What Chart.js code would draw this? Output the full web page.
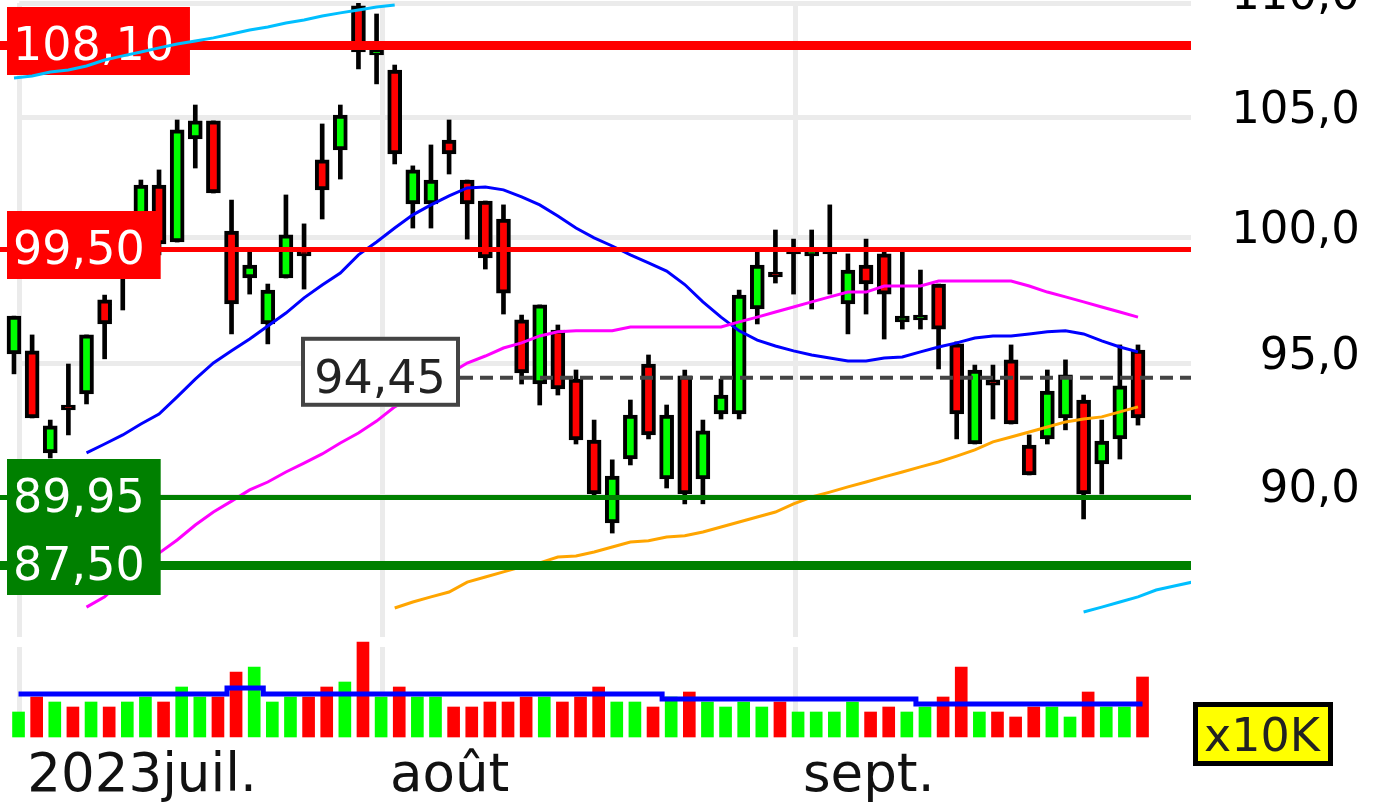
<!DOCTYPE html>
<html lang="fr">
<head>
<meta charset="UTF-8">
<title>Cours - juil. à sept. 2023</title>
<script src="https://cdn.jsdelivr.net/npm/chart.js@4"></script>
<style>
    html, body { margin: 0; padding: 0; background: #fff; }
    #wrap { position: relative; width: 1376px; height: 802px; overflow: hidden; }
    #wrap canvas { position: absolute; left: 0; }
    #prix { top: 0; }
    #volume { top: 640px; }
</style>
</head>
<body>
<div id="wrap">
    <canvas id="prix" width="1376" height="640"></canvas>
    <canvas id="volume" width="1376" height="162"></canvas>
</div>
<script>
    // seances du 3 juil. au 27 sept. 2023 (index 0..62)
    const OPEN  = [95.37, 95.49, 91.61, 93.41, 93.83, 97.49, 98.44, 99.49, 102.15, 99.81,
                   104.08, 104.85, 100.26, 98.36, 96.54, 98.36, 99.49, 103.20, 103.62, 109.87,
                   107.70, 107.04, 101.37, 101.37, 104.04, 102.36, 101.49, 100.75, 96.70, 94.21,
                   96.30, 94.40, 92.09, 89.04, 91.38, 94.98, 90.64, 94.52, 90.64, 93.07,
                   93.07, 97.13, 98.60, 99.33, 99.25, 99.33, 97.33, 98.88, 99.33, 96.62,
                   96.70, 98.12, 95.76, 91.94, 94.37, 95.14, 91.90, 92.13, 92.92, 93.60,
                   91.20, 92.13, 95.52];
    const HIGH  = [96.85, 96.11, 92.84, 94.98, 96.11, 97.68, 100.51, 102.36, 102.78, 104.89,
                   105.53, 104.85, 101.53, 99.53, 98.12, 101.74, 100.55, 104.72, 105.53, 110.23,
                   109.51, 107.26, 102.95, 103.83, 104.89, 102.36, 101.49, 101.33, 96.89, 97.29,
                   96.50, 94.75, 92.84, 91.35, 93.60, 95.33, 93.41, 94.75, 92.84, 94.40,
                   97.88, 99.53, 100.30, 99.93, 100.30, 101.33, 99.33, 99.93, 99.53, 99.53,
                   98.68, 98.12, 95.84, 94.94, 94.94, 95.72, 92.28, 94.75, 95.14, 93.79,
                   92.84, 95.72, 95.72];
    const LOW   = [94.60, 92.92, 91.42, 92.28, 93.45, 95.18, 97.09, 99.00, 99.29, 99.81,
                   102.86, 101.82, 96.15, 97.72, 95.76, 98.36, 97.92, 100.75, 102.40, 107.09,
                   106.44, 103.03, 100.38, 100.38, 102.61, 99.93, 98.72, 96.93, 94.21, 93.41,
                   93.79, 91.94, 89.98, 88.67, 91.16, 92.13, 90.31, 89.73, 89.73, 92.88,
                   92.88, 96.54, 98.16, 97.72, 97.13, 97.72, 96.15, 96.93, 95.95, 96.34,
                   96.34, 94.79, 92.13, 91.94, 92.88, 92.69, 90.79, 91.94, 92.47, 89.18,
                   90.09, 91.38, 92.65];
    const CLOSE = [96.85, 92.92, 92.62, 93.22, 96.11, 96.54, 99.89, 102.15, 99.73, 104.47,
                   104.85, 101.82, 97.33, 98.88, 97.88, 100.10, 99.25, 101.95, 105.10, 107.83,
                   107.92, 103.45, 102.78, 102.36, 103.45, 101.37, 99.17, 97.76, 94.64, 97.29,
                   94.02, 92.09, 90.09, 90.75, 93.03, 92.28, 93.03, 90.09, 92.43, 93.79,
                   97.68, 98.88, 98.40, 99.53, 99.49, 99.53, 98.68, 98.12, 97.72, 96.85,
                   96.89, 96.34, 93.07, 94.75, 94.17, 92.69, 90.79, 93.94, 94.56, 90.09,
                   92.05, 94.14, 92.92];

    // volumes en x10K
    const VOLUME = [5, 8, 7, 6, 7, 6, 7, 8, 7, 10, 8, 8, 13, 14, 7, 8, 8, 10, 11, 19,
                    8, 10, 8, 8, 6, 6, 7, 7, 8, 8, 7, 8, 10, 7, 7, 6, 8, 9, 7, 6,
                    7, 6, 7, 5, 5, 5, 7, 5, 6, 5, 6, 8, 14, 5, 5, 4, 6, 6, 4, 9,
                    6, 6, 12];
    const VOL_MA = [8.6, 8.6, 8.6, 8.6, 8.6, 8.6, 8.6, 8.6, 8.6, 8.6, 8.6, 8.6, 9.8, 9.8,
                    8.6, 8.6, 8.6, 8.6, 8.6, 8.6, 8.6, 8.6, 8.6, 8.6, 8.6, 8.6, 8.6, 8.6,
                    8.6, 8.6, 8.6, 8.6, 8.6, 8.6, 8.6, 8.6, 7.6, 7.6, 7.6, 7.6, 7.6, 7.6,
                    7.6, 7.6, 7.6, 7.6, 7.6, 7.6, 7.6, 7.6, 6.6, 6.6, 6.6, 6.6, 6.6, 6.6,
                    6.6, 6.6, 6.6, 6.6, 6.6, 6.6, 6.6];

    // moyennes mobiles
    const MA_BLUE = [null, null, null, null, 91.61, 91.94, 92.28, 92.69, 93.07, 93.72,
                     94.40, 95.02, 95.49, 95.95, 96.46, 96.97, 97.57, 98.08, 98.56, 99.29,
                     99.81, 100.38, 100.92, 101.33, 101.70, 102.03, 102.07, 101.95, 101.66, 101.33,
                     100.87, 100.38, 99.98, 99.65, 99.29, 98.97, 98.64, 98.10, 97.41, 96.81,
                     96.27, 95.91, 95.68, 95.49, 95.33, 95.21, 95.10, 95.10, 95.21, 95.25,
                     95.45, 95.64, 95.80, 95.99, 96.07, 96.07, 96.15, 96.23, 96.27, 96.15,
                     95.88, 95.64, 95.45];
    const MA_MAGENTA = [null, null, null, null, 86.04, 86.40, 86.99, 87.46, 87.95, 88.42,
                        88.96, 89.43, 89.83, 90.24, 90.53, 90.90, 91.23, 91.57, 91.98, 92.35,
                        92.80, 93.34, 93.75, 94.17, 94.60, 95.02, 95.29, 95.60, 95.80, 96.07,
                        96.23, 96.27, 96.27, 96.27, 96.42, 96.42, 96.42, 96.42, 96.42, 96.42,
                        96.62, 96.81, 97.01, 97.21, 97.41, 97.61, 97.80, 97.80, 98.04, 98.04,
                        98.04, 98.24, 98.24, 98.24, 98.24, 98.24, 98.04, 97.80, 97.61, 97.41,
                        97.21, 97.01, 96.81];
    const MA_ORANGE = [null, null, null, null, null, null, null, null, null, null,
                       null, null, null, null, null, null, null, null, null, null,
                       null, 86.01, 86.22, 86.40, 86.57, 86.92, 87.10, 87.28, 87.46, 87.60,
                       87.81, 87.85, 87.99, 88.17, 88.35, 88.39, 88.53, 88.57, 88.71, 88.89,
                       89.07, 89.25, 89.43, 89.73, 89.98, 90.16, 90.35, 90.53, 90.72, 90.90,
                       91.09, 91.27, 91.49, 91.72, 92.02, 92.20, 92.39, 92.58, 92.77, 92.88,
                       92.96, 93.15, 93.34];
    const CYAN_TOP = [106.70, 106.78, 106.96, 107.04, 107.22, 107.48, 107.66, 107.83, 108.01, 108.18,
                      108.31, 108.45, 108.62, 108.80, 108.93, 109.11, 109.24, 109.42, 109.56, 109.69,
                      109.82, 109.91];
    const CYAN_BOTTOM = [85.87, 86.04, 86.22, 86.40, 86.64, 86.78, 86.92]; // index 59..65
    const MA_CYAN = [...CYAN_TOP, ...new Array(37).fill(null), ...CYAN_BOTTOM];

    const PRICE_TICKS = [90, 95, 100, 105, 110];
    const MONTHS = ['2023juil.', 'août', 'sept.'];
    const MONTH_POS = [0.29, 20.3, 43.08];
    const RESISTANCES = [108.10, 99.50];
    const SUPPORTS = [89.95, 87.50];
    const LAST_PRICE = 94.45;

    const X_MIN = -0.772, X_MAX = 64.924, VOL_SHIFT = 0.25;
    const FONT = '"DejaVu Sans", Verdana, sans-serif';
    Chart.defaults.font.family = FONT;

    const idx = OPEN.map((_, i) => i);
    const up = i => CLOSE[i] >= OPEN[i];
    const fmt = v => v.toFixed(2).replace('.', ',');

    function boxLabel(ctx, text, yLine, bg) {
        ctx.font = '46px ' + FONT;
        const w = ctx.measureText(text).width + 22;
        ctx.fillStyle = bg;
        ctx.fillRect(7, Math.round(yLine - 39), w, 68);
        ctx.fillStyle = '#fff';
        ctx.textAlign = 'left';
        ctx.textBaseline = 'alphabetic';
        ctx.fillText(text, 13, yLine + 14);
    }

    const decorPrix = {
        id: 'decorPrix',
        beforeDatasetsDraw(chart) {
            const {ctx, chartArea: a, scales: {x, y}} = chart;
            ctx.save();
            ctx.fillStyle = '#ebebeb';
            const x0 = x.getPixelForValue(MONTH_POS[0]);
            PRICE_TICKS.forEach(v => {
                const py = Math.round(y.getPixelForValue(v));
                ctx.fillRect(x0, py - 2, a.right - x0, 5);
            });
            MONTH_POS.forEach(p => {
                const px = Math.round(x.getPixelForValue(p));
                ctx.fillRect(px - 2, a.top, 5, a.bottom - a.top);
            });
            ctx.restore();
        },
        afterDatasetDraw(chart, args) {
            if (args.index !== 4) return;
            const {ctx, chartArea: a, scales: {y}} = chart;
            ctx.save();
            // niveaux
            const lines = [
                [RESISTANCES[0], '#ff0000', 9], [RESISTANCES[1], '#ff0000', 5],
                [SUPPORTS[0], '#008000', 5], [SUPPORTS[1], '#008000', 9]
            ];
            lines.forEach(([v, c, w]) => {
                const py = y.getPixelForValue(v);
                ctx.fillStyle = c;
                ctx.fillRect(a.left, Math.round(py - w / 2), a.right - a.left, w);
            });
            // dernier cours
            const yl = y.getPixelForValue(LAST_PRICE);
            ctx.strokeStyle = '#444';
            ctx.lineWidth = 4;
            ctx.setLineDash([13, 7]);
            ctx.beginPath();
            ctx.moveTo(460, yl);
            ctx.lineTo(a.right, yl);
            ctx.stroke();
            ctx.setLineDash([]);
            ctx.fillStyle = '#fff';
            ctx.fillRect(301, yl - 41, 159, 70);
            ctx.strokeRect(303, yl - 39, 155, 66);
            ctx.fillStyle = '#222';
            ctx.font = '46px ' + FONT;
            ctx.textAlign = 'center';
            ctx.textBaseline = 'alphabetic';
            ctx.fillText(fmt(LAST_PRICE), 380, yl + 15);
            // etiquettes
            RESISTANCES.forEach(v => boxLabel(ctx, fmt(v), y.getPixelForValue(v), '#ff0000'));
            SUPPORTS.forEach(v => boxLabel(ctx, fmt(v), y.getPixelForValue(v), '#008000'));
            ctx.restore();
        }
    };

    const line = (data, color, order) => ({
        type: 'line',
        data: data.map((v, i) => ({x: i, y: v})),
        borderColor: color,
        borderWidth: 3,
        pointRadius: 0,
        tension: 0,
        order: order
    });

    new Chart(document.getElementById('prix'), {
        type: 'bar',
        data: {
            datasets: [
                {
                    data: idx.map(i => ({x: i, y: [LOW[i], HIGH[i]]})),
                    backgroundColor: '#000',
                    barThickness: 4,
                    grouped: false,
                    order: 6
                },
                {
                    data: idx.map(i => ({x: i, y: [OPEN[i], CLOSE[i]]})),
                    backgroundColor: idx.map(i => up(i) ? '#00ff00' : '#ff0000'),
                    borderColor: '#000',
                    borderWidth: 4,
                    borderSkipped: false,
                    barThickness: 14,
                    grouped: false,
                    order: 5
                },
                line(MA_BLUE, '#0000ff', 4),
                line(MA_MAGENTA, '#ff00ff', 3),
                line(MA_ORANGE, '#ffa500', 2),
                line(MA_CYAN, '#00bfff', 1)
            ]
        },
        options: {
            responsive: false,
            animation: false,
            layout: {padding: {top: 3, bottom: 3, left: 0, right: 16}},
            plugins: {legend: {display: false}, tooltip: {enabled: false}},
            scales: {
                x: {type: 'linear', min: X_MIN, max: X_MAX, offset: false, bounds: 'data', display: false},
                y: {
                    type: 'logarithmic',
                    position: 'right',
                    min: 85,
                    max: 110,
                    bounds: 'data',
                    grid: {display: false, drawTicks: false},
                    border: {display: false},
                    afterBuildTicks: s => { s.ticks = PRICE_TICKS.map(v => ({value: v})); },
                    afterFit: s => { s.width = 169; s.paddingTop = 0; s.paddingBottom = 0; },
                    ticks: {
                        autoSkip: false,
                        padding: 22,
                        crossAlign: 'far',
                        labelOffset: -6,
                        color: '#000',
                        font: {size: 45},
                        callback: v => Number(v).toFixed(1).replace('.', ',')
                    }
                }
            }
        },
        plugins: [decorPrix]
    });

    const decorVolume = {
        id: 'decorVolume',
        beforeDatasetsDraw(chart) {
            const {ctx, chartArea: a, scales: {x}} = chart;
            ctx.save();
            ctx.fillStyle = '#ebebeb';
            MONTH_POS.forEach(p => {
                const px = Math.round(x.getPixelForValue(p - VOL_SHIFT));
                ctx.fillRect(px - 2, a.top, 5, a.bottom - a.top);
            });
            ctx.restore();
        },
        afterDraw(chart) {
            const {ctx, scales: {x}} = chart;
            ctx.save();
            ctx.fillStyle = '#111';
            ctx.font = '53px ' + FONT;
            ctx.textAlign = 'left';
            ctx.textBaseline = 'alphabetic';
            MONTHS.forEach((m, k) => {
                ctx.fillText(m, x.getPixelForValue(MONTH_POS[k] - VOL_SHIFT) + 8, 151);
            });
            // unite des volumes
            ctx.fillStyle = '#000';
            ctx.fillRect(1193, 62, 140, 64);
            ctx.fillStyle = '#ffff00';
            ctx.fillRect(1198, 67, 130, 54);
            ctx.fillStyle = '#222';
            ctx.font = '46px ' + FONT;
            ctx.fillText('x10K', 1204, 111);
            ctx.restore();
        }
    };

    new Chart(document.getElementById('volume'), {
        type: 'bar',
        data: {
            datasets: [
                {
                    type: 'line',
                    data: VOL_MA.map((v, i) => ({x: i, y: v})),
                    borderColor: '#0000ff',
                    borderWidth: 5,
                    pointRadius: 0,
                    stepped: 'middle',
                    order: 1
                },
                {
                    data: VOLUME.map((v, i) => ({x: i, y: v})),
                    backgroundColor: idx.map(i => up(i) ? '#00ff00' : '#ff0000'),
                    barThickness: 12,
                    clip: false,
                    order: 2
                }
            ]
        },
        options: {
            responsive: false,
            animation: false,
            layout: {padding: {top: 7, bottom: 65, left: 0, right: 185}},
            plugins: {legend: {display: false}, tooltip: {enabled: false}},
            scales: {
                x: {type: 'linear', min: X_MIN - VOL_SHIFT, max: X_MAX - VOL_SHIFT, offset: false, bounds: 'data', display: false},
                y: {min: 0, max: 18, display: false}
            }
        },
        plugins: [decorVolume]
    });
</script>
</body>
</html>
